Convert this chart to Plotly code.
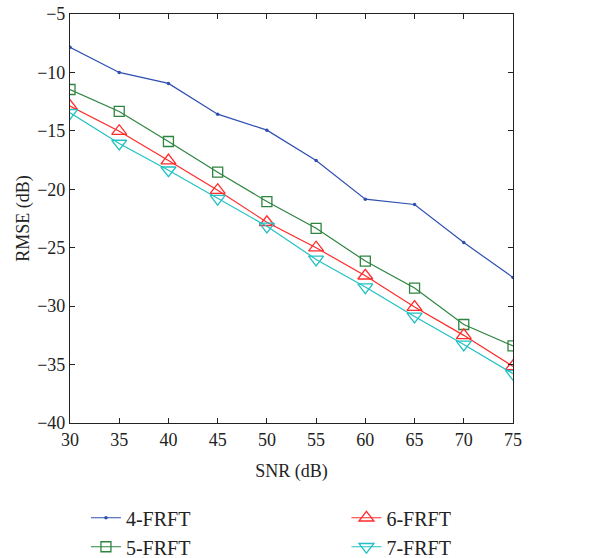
import plotly.graph_objects as go

snr = [30, 35, 40, 45, 50, 55, 60, 65, 70, 75]
frft4 = [-7.85, -10.0, -10.94, -13.57, -14.94, -17.54, -20.85, -21.3, -24.56, -27.54]
frft5 = [-11.46, -13.34, -15.91, -18.54, -21.05, -23.34, -26.14, -28.45, -31.57, -33.4]
frft6 = [-12.88, -15.03, -17.54, -20.08, -22.82, -25.0, -27.4, -30.08, -32.5, -35.16]
frft7 = [-13.46, -16.08, -18.37, -20.8, -23.17, -26.0, -28.37, -30.88, -33.28, -35.79]

x_ticks = [30, 35, 40, 45, 50, 55, 60, 65, 70, 75]
y_ticks = [-5, -10, -15, -20, -25, -30, -35, -40]

FONT = "Liberation Serif"
fig = go.Figure()

fig.add_trace(go.Scatter(x=snr, y=frft4, name="4-FRFT", mode="lines+markers",
                         line=dict(color="#2f4fb0", width=1.2),
                         marker=dict(symbol="circle", size=3.5, color="#2f4fb0"),
                         legend="legend"))
fig.add_trace(go.Scatter(x=snr, y=frft5, name="5-FRFT", mode="lines+markers",
                         line=dict(color="#2e8540", width=1.2),
                         marker=dict(symbol="square-open", size=10, color="#2e8540",
                                     line=dict(width=1.3)),
                         legend="legend"))
fig.add_trace(go.Scatter(x=snr, y=frft6, name="6-FRFT", mode="lines+markers",
                         line=dict(color="#ff2a2a", width=1.2),
                         marker=dict(symbol="triangle-up-open", size=13, color="#ff2a2a",
                                     line=dict(width=1.3)),
                         legend="legend2"))
fig.add_trace(go.Scatter(x=snr, y=frft7, name="7-FRFT", mode="lines+markers",
                         line=dict(color="#22c0c4", width=1.2),
                         marker=dict(symbol="triangle-down-open", size=13, color="#22c0c4",
                                     line=dict(width=1.3)),
                         legend="legend2"))

axis_common = dict(showline=True, linecolor="#222", linewidth=1.2, mirror="ticks",
                   ticks="inside", ticklen=5, tickcolor="#222", tickwidth=1,
                   showgrid=False, zeroline=False, automargin=False,
                   ticklabeloverflow="allow",
                   tickfont=dict(family=FONT, size=18, color="#222"))

fig.update_layout(
    width=609, height=558,
    margin=dict(l=70, r=96, t=14, b=135, autoexpand=False),
    paper_bgcolor="white", plot_bgcolor="white",
    font=dict(family=FONT, size=18, color="#222"),
    xaxis=dict(range=[30, 75], tickvals=x_ticks,
               title=dict(text="SNR (dB)", font=dict(family=FONT, size=18), standoff=15),
               **axis_common),
    yaxis=dict(range=[-40, -5], tickvals=y_ticks,
               ticktext=[f"\u2212{abs(v)}" for v in y_ticks],
               title=dict(text="RMSE (dB)", font=dict(family=FONT, size=18), standoff=2),
               **axis_common),
    legend=dict(x=0.036, y=-0.184, xanchor="left", yanchor="top",
                font=dict(family=FONT, size=20), tracegroupgap=0,
                bgcolor="rgba(0,0,0,0)"),
    legend2=dict(x=0.624, y=-0.184, xanchor="left", yanchor="top",
                 font=dict(family=FONT, size=20), tracegroupgap=0,
                 bgcolor="rgba(0,0,0,0)"),
    showlegend=True,
)

fig.write_html("out.html", config={"displayModeBar": False},
               post_script="document.body.style.margin='0';")
